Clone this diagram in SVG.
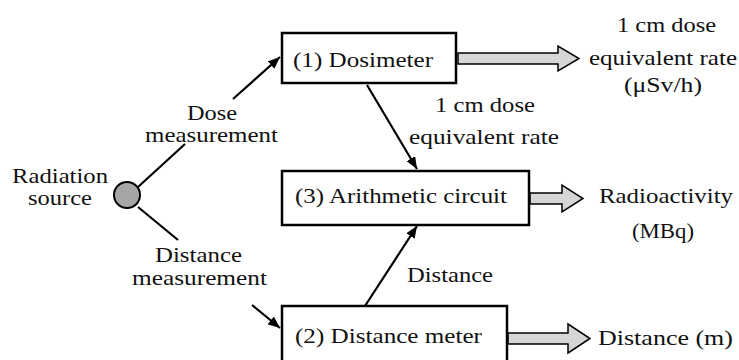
<svg xmlns="http://www.w3.org/2000/svg" width="739" height="360" viewBox="0 0 739 360">
<defs>
<style>
.box{fill:#fff;stroke:#000;stroke-width:2.5;}
.ln{stroke:#000;stroke-width:2.2;fill:none;}
.big{fill:#d6d6d6;stroke:#000;stroke-width:1.5;stroke-linejoin:miter;}
</style>
<marker id="ah" viewBox="0 0 12 10" refX="12" refY="5" markerWidth="12" markerHeight="10" markerUnits="userSpaceOnUse" orient="auto">
<path d="M0,0 L12,5 L0,10 Z" fill="#000"/>
</marker>
</defs>
<rect width="739" height="360" fill="#fff"/>
<g id="connectors">
<line class="ln" x1="138" y1="187" x2="185" y2="144"/>
<line class="ln" x1="233" y1="99" x2="280" y2="57" marker-end="url(#ah)"/>
<line class="ln" x1="138" y1="207" x2="178" y2="240"/>
<line class="ln" x1="252" y1="305" x2="280" y2="328" marker-end="url(#ah)"/>
<line class="ln" x1="367" y1="85" x2="417" y2="169" marker-end="url(#ah)"/>
<line class="ln" x1="365" y1="306" x2="417" y2="226" marker-end="url(#ah)"/>
<polygon class="big" points="458,53 558,53 558,46 579,58.5 558,71 558,64 458,64"/>
<polygon class="big" points="530,193 562,193 562,185 583,198.5 562,212 562,204 530,204"/>
<polygon class="big" points="508,333 568,333 568,324 590,338.5 568,353 568,344 508,344"/>
</g>
<g font-family="Liberation Serif" font-size="21" fill="#111">
<g id="source">
<circle cx="127" cy="195" r="13" fill="#a6a6a6" stroke="#000" stroke-width="2"/>
<text x="12" y="183" textLength="96" lengthAdjust="spacingAndGlyphs">Radiation</text>
<text x="28" y="205" textLength="64" lengthAdjust="spacingAndGlyphs">source</text>
</g>
<g id="dose-label">
<text x="187" y="120" textLength="50" lengthAdjust="spacingAndGlyphs">Dose</text>
<text x="145" y="142" textLength="133" lengthAdjust="spacingAndGlyphs">measurement</text>
</g>
<g id="distance-label">
<text x="155" y="262" textLength="87" lengthAdjust="spacingAndGlyphs">Distance</text>
<text x="132" y="285" textLength="135" lengthAdjust="spacingAndGlyphs">measurement</text>
</g>
<g id="dosimeter">
<rect class="box" x="282" y="33" width="174" height="50"/>
<text x="293" y="67" textLength="140" lengthAdjust="spacingAndGlyphs">(1) Dosimeter</text>
</g>
<g id="arithmetic">
<rect class="box" x="282" y="171" width="247" height="54"/>
<text x="295" y="203" textLength="212" lengthAdjust="spacingAndGlyphs">(3) Arithmetic circuit</text>
</g>
<g id="distance-meter">
<rect class="box" x="282" y="306" width="225" height="60"/>
<text x="295" y="343" textLength="187" lengthAdjust="spacingAndGlyphs">(2) Distance meter</text>
</g>
<g id="dose-rate-label">
<text x="435" y="112" textLength="100" lengthAdjust="spacingAndGlyphs">1 cm dose</text>
<text x="409" y="144" textLength="150" lengthAdjust="spacingAndGlyphs">equivalent rate</text>
</g>
<g id="distance-mid-label">
<text x="407" y="282" textLength="86" lengthAdjust="spacingAndGlyphs">Distance</text>
</g>
<g id="out-dose">
<text x="617" y="32" textLength="99" lengthAdjust="spacingAndGlyphs">1 cm dose</text>
<text x="589" y="65" textLength="148" lengthAdjust="spacingAndGlyphs">equivalent rate</text>
<text x="624" y="92" textLength="78" lengthAdjust="spacingAndGlyphs">(μSv/h)</text>
</g>
<g id="out-activity">
<text x="599" y="203" textLength="134" lengthAdjust="spacingAndGlyphs">Radioactivity</text>
<text x="632" y="238" textLength="62" lengthAdjust="spacingAndGlyphs">(MBq)</text>
</g>
<g id="out-distance">
<text x="598" y="345" textLength="135" lengthAdjust="spacingAndGlyphs">Distance (m)</text>
</g>
</g>
</svg>
